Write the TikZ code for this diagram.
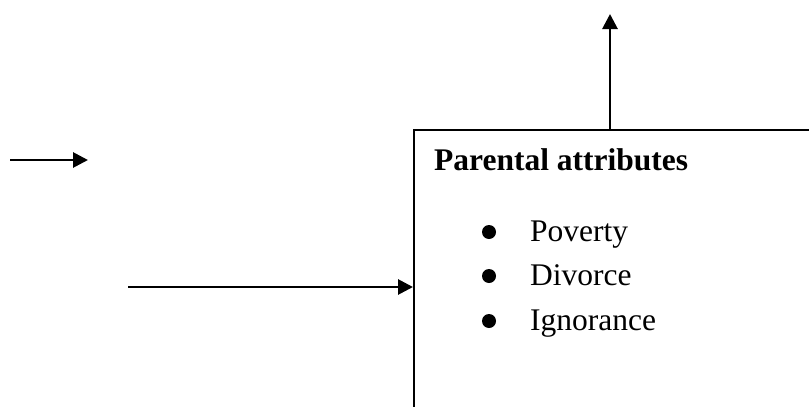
\documentclass[tikz,border=0pt]{standalone}
\usepackage{fontspec}
\setmainfont{Liberation Serif}
\usetikzlibrary{arrows.meta, positioning}

\begin{document}
\begin{tikzpicture}[x=1pt, y=-1pt,
    flow/.style={line width=2.8pt, -{Triangle[length=15pt,width=15pt]}},
    item/.style={anchor=base west, inner sep=0pt, font=\fontsize{31.5}{36}\selectfont},
    dot/.style={circle, fill=black, inner sep=0pt, minimum size=14pt}]
        \useasboundingbox (0,0) rectangle (809,407);
        \clip (0,0) rectangle (809,407);
        % the box runs off the page to the right and bottom
        \node[draw, line width=1.8pt, anchor=north west, minimum width=440pt, minimum height=320pt] (attr) at (413,129) {};
        \begin{scope}[every node/.style={item}]
          \node (title) at (434,170) {\textbf{Parental attributes}};
          \node (pov) at (530,241) {Poverty};
          \node (div) at (530,285) {Divorce};
          \node (ign) at (530,330) {Ignorance};
        \end{scope}
        \begin{scope}[every node/.style={dot}]
          \node (b1) at (489,232) {};
          \node (b2) at (489,276) {};
          \node (b3) at (489,321) {};
        \end{scope}
        \coordinate (in1) at (10,160);
        \coordinate (in1e) at (88,160);
        \coordinate (in2) at (128,287);
        \coordinate (out) at (610,14);
        \begin{scope}[every path/.style={flow}]
          \draw (in1) -- (in1e);
          \draw (in2) -- (in2 -| attr.west);
          \draw (out |- attr.north) -- (out);
        \end{scope}
      \end{tikzpicture}
\end{document}
